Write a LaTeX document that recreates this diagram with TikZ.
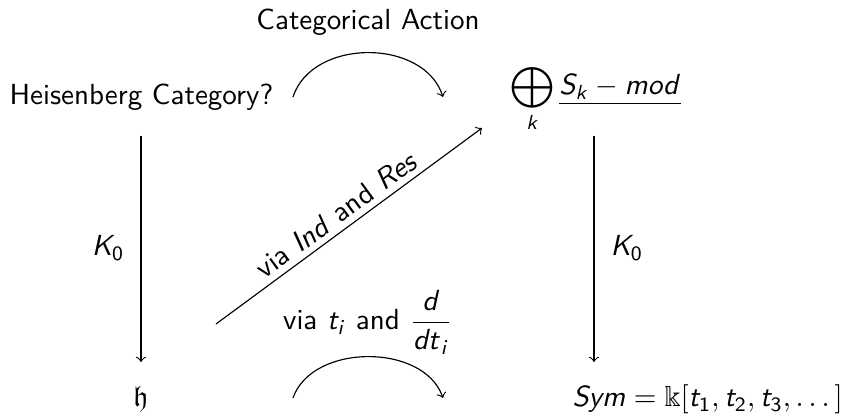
\documentclass[tikz,border=0pt]{standalone}
\usepackage{amsmath,amssymb}
\DeclareMathAlphabet{\mathsfit}{OT1}{cmss}{m}{sl}
\newcommand{\si}[1]{\mathsfit{#1}}
\newcommand{\sn}[1]{\mathsf{#1}}
\begin{document}
\begin{tikzpicture}[x=0.344pt,y=-0.344pt,font=\sffamily,
  lbl/.style={inner sep=0pt},
  arr/.style={->,line width=0.4pt}]
\useasboundingbox (0,0) rectangle (845,414);
% nodes
\node[lbl,anchor=base] (cat) at (368,30) {Categorical Action};
\node[lbl,anchor=base west] (heis) at (9,105) {Heisenberg Category?};
\node[lbl,anchor=base west] (sum) at (510,95) {$\displaystyle\bigoplus_{\si{k}}\underline{\si{S}_{\si{k}}-\si{mod}}$};
\node[lbl,anchor=base] (h) at (141,407) {$\mathfrak{h}$};
\node[lbl,anchor=base west] (sym) at (572,407) {$\si{Sym}=\Bbbk[\si{t}_{\sn{1}},\si{t}_{\sn{2}},\si{t}_{\sn{3}},\dots]$};
\node[lbl,anchor=base] (bl) at (368,330) {via $\si{t}_{\si{i}}$ and $\dfrac{\si{d}}{\si{dt}_{\si{i}}}$};
\node[lbl,anchor=base east] (kl) at (125,256) {$\si{K}_{\sn{0}}$};
\node[lbl,anchor=base west] (kr) at (610,256) {$\si{K}_{\sn{0}}$};
% coordinates for free ends
\coordinate (la) at (141,136);
\coordinate (lb) at (141,362);
\coordinate (ra) at (594,136);
\coordinate (rb) at (594,362);
\coordinate (ds) at (216,324);
\coordinate (de) at (482,128);
\coordinate (ta) at (293,97);
\coordinate (tb) at (443,97);
\coordinate (ba) at (293,398);
\coordinate (bb) at (443,398);
% connectors
\draw[arr] (la) -- (lb);
\draw[arr] (ra) -- (rb);
\draw[arr] (ds) -- node[sloped,above,pos=0.49,inner sep=2pt] {via $\si{Ind}$ and $\si{Res}$} (de);
\draw[arr] (ta) .. controls (312,38) and (424,38) .. (tb);
\draw[arr] (ba) .. controls (312,343) and (424,343) .. (bb);
\end{tikzpicture}
\end{document}
